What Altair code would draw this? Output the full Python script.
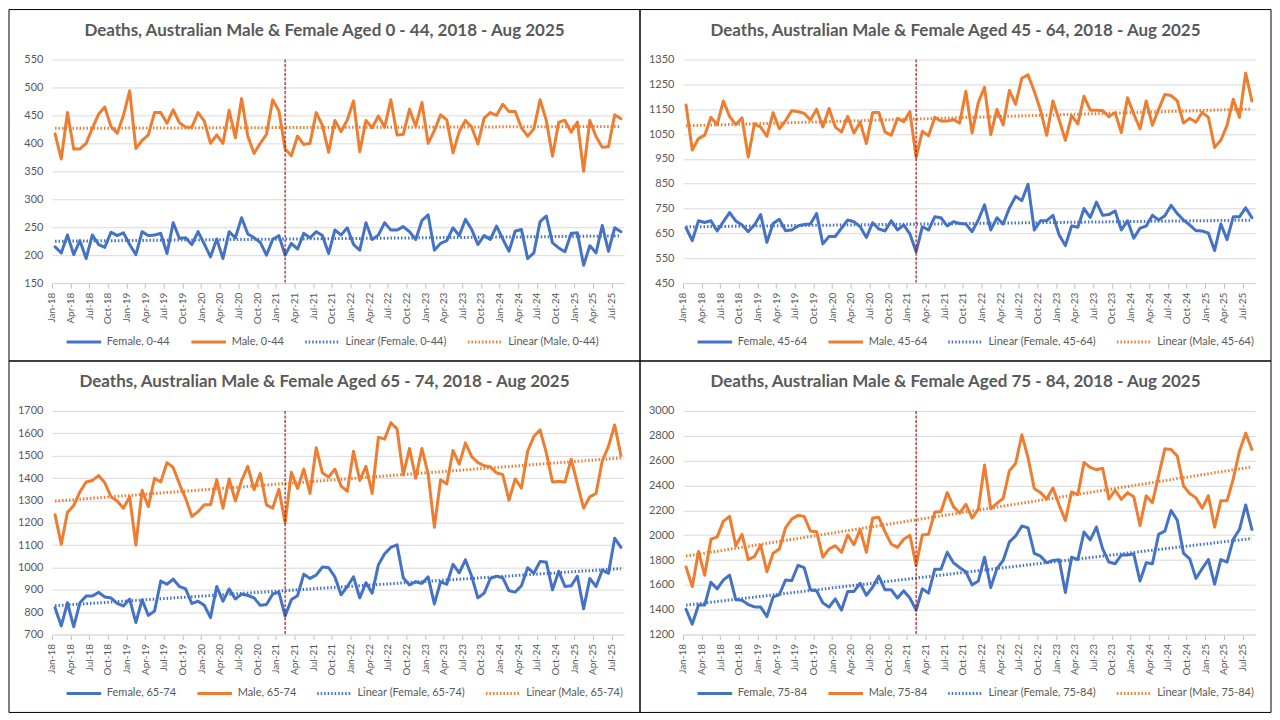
import json
import altair as alt
import pandas as pd

MONTHS = ["Jan", "Feb", "Mar", "Apr", "May", "Jun", "Jul", "Aug", "Sep", "Oct", "Nov", "Dec"]
YEARS = ["18", "19", "20", "21", "22", "23", "24", "25"]
month_labels = [f"{m}-{y}" for y in YEARS for m in MONTHS][:92]
N = len(month_labels)
VAX_MONTH = "Feb-21"

female_0_44 = [215, 204, 236, 201, 226, 194, 236, 219, 214, 241,
               235, 240, 219, 201, 242, 235, 236, 239, 203, 258,
               230, 231, 219, 242, 220, 197, 229, 194, 242, 231,
               267, 238, 231, 223, 200, 228, 235, 200, 221, 211,
               239, 231, 242, 235, 203, 245, 236, 249, 219, 209,
               258, 228, 236, 258, 245, 245, 251, 242, 228, 262,
               272, 209, 221, 226, 249, 235, 264, 246, 219, 235,
               228, 252, 229, 207, 243, 246, 194, 204, 260, 270,
               222, 213, 206, 239, 240, 182, 217, 204, 253, 207,
               249, 242]
male_0_44 = [417, 372, 455, 390, 390, 400, 427, 452, 465, 430,
             418, 450, 494, 391, 405, 415, 455, 455, 436, 460,
             437, 429, 429, 455, 440, 400, 415, 400, 459, 410,
             480, 413, 382, 400, 416, 478, 458, 390, 378, 413,
             398, 400, 455, 432, 384, 441, 421, 442, 476, 385,
             441, 428, 449, 429, 478, 415, 416, 461, 431, 473,
             400, 423, 451, 442, 383, 421, 441, 429, 399, 445,
             455, 450, 470, 457, 457, 428, 413, 426, 478, 441,
             377, 438, 441, 420, 438, 350, 441, 412, 393, 394,
             451, 444]
female_45_64 = [673, 621, 701, 694, 701, 660, 697, 734, 700, 684,
                657, 684, 726, 614, 690, 707, 661, 664, 680, 686,
                688, 730, 608, 638, 638, 671, 704, 697, 677, 634,
                693, 668, 660, 701, 664, 684, 648, 576, 677, 664,
                717, 713, 680, 697, 690, 688, 657, 704, 765, 664,
                713, 688, 752, 799, 782, 848, 664, 701, 701, 723,
                644, 601, 680, 675, 750, 714, 776, 723, 726, 740,
                664, 701, 631, 671, 680, 723, 704, 721, 763, 730,
                704, 684, 661, 660, 651, 581, 688, 625, 717, 717,
                753, 713]
male_45_64 = [1167, 986, 1032, 1045, 1117, 1088, 1183, 1121, 1088, 1115,
              957, 1091, 1078, 1041, 1136, 1071, 1104, 1144, 1140, 1133,
              1107, 1150, 1078, 1153, 1078, 1058, 1121, 1054, 1098, 1012,
              1136, 1137, 1058, 1045, 1113, 1100, 1140, 956, 1061, 1043,
              1117, 1102, 1102, 1108, 1094, 1222, 1054, 1177, 1238, 1048,
              1149, 1087, 1225, 1170, 1275, 1288, 1222, 1146, 1045, 1183,
              1107, 1025, 1124, 1091, 1202, 1146, 1146, 1144, 1120, 1136,
              1056, 1196, 1131, 1071, 1183, 1085, 1150, 1209, 1205, 1183,
              1094, 1113, 1098, 1137, 1117, 996, 1025, 1085, 1190, 1117,
              1295, 1183]
female_65_74 = [820, 739, 842, 735, 842, 872, 872, 889, 868, 864,
                839, 828, 859, 754, 856, 786, 805, 939, 925, 948,
                915, 904, 839, 849, 831, 776, 915, 849, 904, 859,
                881, 875, 864, 831, 834, 881, 890, 783, 856, 874,
                970, 951, 966, 1002, 999, 958, 878, 915, 958, 864,
                932, 885, 1012, 1061, 1090, 1101, 954, 922, 936, 929,
                958, 837, 936, 925, 1014, 976, 1034, 961, 864, 885,
                951, 961, 954, 896, 890, 918, 999, 974, 1027, 1024,
                900, 983, 915, 918, 961, 815, 951, 915, 988, 974,
                1131, 1090]
male_65_74 = [1236, 1104, 1247, 1277, 1338, 1382, 1389, 1411, 1379, 1316,
              1297, 1265, 1316, 1100, 1345, 1272, 1399, 1382, 1469, 1447,
              1374, 1309, 1228, 1250, 1280, 1280, 1393, 1265, 1396, 1297,
              1389, 1452, 1348, 1421, 1280, 1265, 1350, 1200, 1426, 1353,
              1440, 1331, 1535, 1423, 1404, 1440, 1364, 1341, 1520, 1389,
              1452, 1331, 1582, 1574, 1647, 1620, 1414, 1532, 1399, 1532,
              1418, 1180, 1392, 1374, 1523, 1462, 1557, 1496, 1469, 1455,
              1450, 1423, 1415, 1301, 1396, 1355, 1520, 1586, 1615, 1513,
              1382, 1385, 1382, 1484, 1374, 1265, 1316, 1331, 1477, 1542,
              1637, 1501]
female_75_84 = [1403, 1284, 1437, 1437, 1621, 1568, 1639, 1678, 1481, 1476,
                1442, 1423, 1421, 1345, 1502, 1521, 1639, 1634, 1757, 1739,
                1560, 1552, 1455, 1421, 1487, 1397, 1547, 1547, 1613, 1516,
                1581, 1670, 1560, 1560, 1494, 1552, 1494, 1397, 1568, 1534,
                1726, 1726, 1862, 1778, 1739, 1705, 1600, 1631, 1823, 1579,
                1731, 1797, 1946, 1994, 2073, 2059, 1854, 1831, 1778, 1797,
                1802, 1539, 1823, 1804, 2025, 1962, 2065, 1889, 1783, 1770,
                1841, 1841, 1849, 1631, 1778, 1770, 2007, 2033, 2199, 2120,
                1854, 1810, 1652, 1731, 1804, 1605, 1804, 1783, 1967, 2046,
                2243, 2046]
male_75_84 = [1744, 1586, 1868, 1678, 1967, 1986, 2112, 2151, 1915, 2007,
              1804, 1828, 1920, 1705, 1854, 1889, 2059, 2130, 2159, 2151,
              2033, 2028, 1823, 1889, 1915, 1862, 2002, 1923, 2046, 1862,
              2138, 2143, 2028, 1928, 1902, 1967, 1999, 1757, 2002, 2007,
              2185, 2191, 2343, 2230, 2178, 2249, 2138, 2209, 2564, 2212,
              2256, 2296, 2519, 2577, 2808, 2624, 2375, 2343, 2291, 2380,
              2243, 2117, 2348, 2327, 2585, 2545, 2527, 2538, 2291, 2362,
              2288, 2341, 2309, 2078, 2317, 2262, 2480, 2695, 2690, 2637,
              2396, 2335, 2301, 2217, 2317, 2065, 2277, 2277, 2453, 2677,
              2821, 2690]

BLUE = "#4472C4"
ORANGE = "#ED7D31"
GRAY = "#595959"
FONT = "Lato"

PW, PH = 573, 224          # plot area
LEFT, TOP = 43, 50         # offsets of plot inside each panel frame
FW, FH = 632, 352          # panel frame size

labels_js = json.dumps(month_labels)
VAX = month_labels.index(VAX_MONTH)


def make_panel(title, age, female, male, y_min, y_max, y_step):
    fname, mname = f"Female, {age}", f"Male, {age}"
    lin_f, lin_m = f"Linear ({fname})", f"Linear ({mname})"
    dom = [fname, mname, lin_f, lin_m]
    df = pd.DataFrame({
        "idx": list(range(N)) * 2,
        "value": female + male,
        "sex": [fname] * N + [mname] * N,
    })
    x = alt.X("idx:Q",
              scale=alt.Scale(domain=[-0.5, N - 0.5], nice=False, zero=False),
              axis=alt.Axis(values=list(range(0, N, 3)),
                            labelExpr=f"{labels_js}[datum.value]",
                            labelAngle=270, grid=False, title=None,
                            domainColor="#D9D9D9", tickColor="#BFBFBF",
                            tickSize=5, tickOffset=-PW / N / 2,
                            labelColor=GRAY, labelFont=FONT, labelFontSize=10,
                            labelPadding=4, labelOverlap=False,
                            labelFlush=False, labelBound=False))
    y = alt.Y("value:Q",
              scale=alt.Scale(domain=[y_min, y_max], nice=False, zero=False),
              axis=alt.Axis(values=list(range(y_min, y_max + 1, y_step)),
                            format="d",
                            grid=True, gridColor="#D9D9D9", domain=False,
                            ticks=False, title=None, labelColor=GRAY,
                            labelFont=FONT, labelFontSize=11, labelPadding=9))
    leg = alt.Legend(
        title=None, orient="none", legendX=13, legendY=PH + 40,
        direction="horizontal", columns=4, gridAlign="none",
        symbolType="stroke", symbolSize=1200, labelFont=FONT,
        labelFontSize=11, labelColor=GRAY, columnPadding=14,
        labelOffset=4, labelLimit=250)
    color = alt.Color("series:N",
                      scale=alt.Scale(domain=dom, range=[BLUE, ORANGE, BLUE, ORANGE]),
                      legend=leg)
    dash = alt.StrokeDash("series:N",
                          scale=alt.Scale(domain=dom, range=[[1, 0], [1, 0], [1.5, 2], [1.5, 2]]),
                          legend=leg)
    width = alt.StrokeWidth("series:N",
                            scale=alt.Scale(domain=dom, range=[3, 3, 1.5, 1.5]),
                            legend=leg)

    base = alt.Chart(df)
    frame = alt.Chart(alt.Data(values=[{}])).mark_rect(
        fill="white", fillOpacity=0, stroke="black", strokeWidth=1
    ).encode(x=alt.value(-LEFT), x2=alt.value(FW - LEFT),
             y=alt.value(-TOP), y2=alt.value(FH - TOP))
    lines = base.transform_calculate(series="datum.sex").mark_line(
        strokeJoin="round", strokeCap="round"
    ).encode(x=x, y=y, color=color, strokeDash=dash, strokeWidth=width)
    trend = base.transform_regression(
        "idx", "value", groupby=["sex"], extent=[0, N - 1]
    ).transform_calculate(series="'Linear (' + datum.sex + ')'").mark_line(
    ).encode(x=x, y=y, color=color, strokeDash=dash, strokeWidth=width)
    vline = alt.Chart(alt.Data(values=[{"idx": VAX}])).mark_rule(
        color="#A50000", strokeWidth=1.1, strokeDash=[3, 1.5]
    ).encode(x=x)
    ttl = alt.Chart(alt.Data(values=[{}])).mark_text(
        text=title, font=FONT, fontSize=17, fontWeight="bold", color=GRAY,
        align="center", baseline="middle"
    ).encode(x=alt.value(FW / 2 - LEFT), y=alt.value(-29))
    return alt.layer(frame, lines, trend, vline, ttl).properties(width=PW, height=PH)


p1 = make_panel("Deaths, Australian Male & Female Aged 0 - 44, 2018 - Aug 2025",
                "0-44", female_0_44, male_0_44, 150, 550, 50)
p2 = make_panel("Deaths, Australian Male & Female Aged 45 - 64, 2018 - Aug 2025",
                "45-64", female_45_64, male_45_64, 450, 1350, 100)
p3 = make_panel("Deaths, Australian Male & Female Aged 65 - 74, 2018 - Aug 2025",
                "65-74", female_65_74, male_65_74, 700, 1700, 100)
p4 = make_panel("Deaths, Australian Male & Female Aged 75 - 84, 2018 - Aug 2025",
                "75-84", female_75_84, male_75_84, 1200, 3000, 200)

chart = alt.concat(
    p1, p2, p3, p4, columns=2, bounds="flush",
    spacing={"row": FH - PH, "column": FW - PW},
).resolve_scale(
    color="independent", strokeDash="independent", strokeWidth="independent"
).resolve_legend(
    color="independent", strokeDash="independent", strokeWidth="independent"
).properties(padding=0, background="white").configure_view(stroke="transparent")

chart.save("out.html", embed_options={"renderer": "svg", "actions": False})
